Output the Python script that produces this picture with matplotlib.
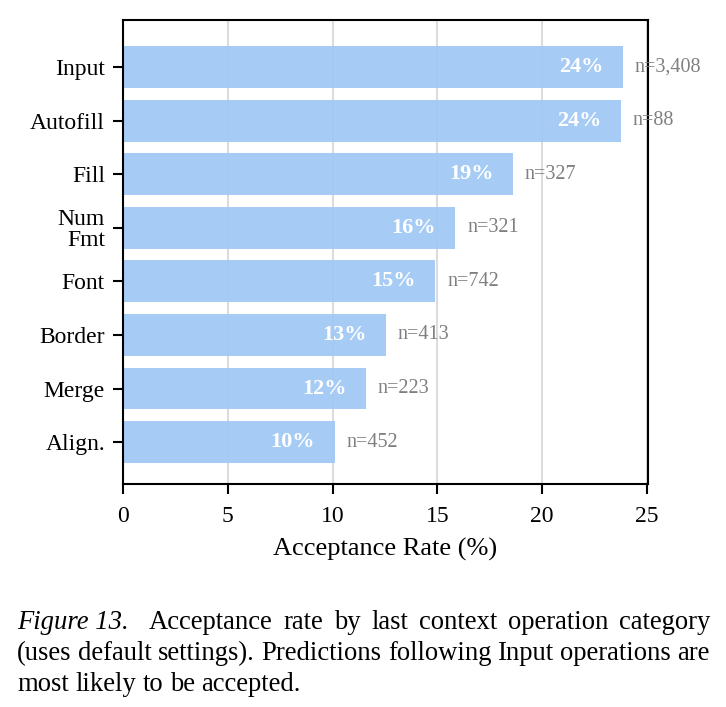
import matplotlib
matplotlib.use("Agg")
import matplotlib.pyplot as plt
import numpy as np

categories = ["Input", "Autofill", "Fill", "Num\nFmt", "Font", "Border", "Merge", "Align."]
rates = [23.85, 23.75, 18.6, 15.85, 14.9, 12.55, 11.6, 10.1]
pct_labels = ["24%", "24%", "19%", "16%", "15%", "13%", "12%", "10%"]
n_labels = ["n=3,408", "n=88", "n=327", "n=321", "n=742", "n=413", "n=223", "n=452"]
xticks = [0, 5, 10, 15, 20, 25]

plt.rcParams['font.family'] = ['Liberation Serif', 'DejaVu Serif']

W, H = 726, 707
fig = plt.figure(figsize=(W / 100, H / 100), dpi=100)
ax = fig.add_axes([123 / W, 1 - 484 / H, (648 - 123) / W, (484 - 20) / H])

y = np.arange(len(categories))
ax.barh(y, rates, height=0.78, color='#a1c9f4', alpha=0.95, zorder=2)
ax.set_xlim(0, 25.05)
ax.set_ylim(7.78, -0.877)
ax.set_yticks(y)
ax.set_yticklabels(categories, fontsize=17, linespacing=0.95)
ax.set_xticks(xticks)
ax.set_xticklabels([str(t) for t in xticks], fontsize=17)
ax.set_xlabel("Acceptance Rate (%)", fontsize=19, labelpad=8)
ax.grid(axis='x', color='#dcdcdc', linewidth=1.5, zorder=0)
ax.set_axisbelow(True)
ax.tick_params(axis='both', direction='out', length=7, width=1.5)
ax.tick_params(axis='x', pad=9)
ax.tick_params(axis='y', pad=6)
for s in ax.spines.values():
    s.set_linewidth(1.5)

for yi, r, pl, nl in zip(y, rates, pct_labels, n_labels):
    ax.annotate(pl, (r, yi), xytext=(-14, 0), textcoords='offset points',
                ha='right', va='center', color='white', fontweight='bold', fontsize=16)
    ax.annotate(nl, (r, yi), xytext=(8.5, 0), textcoords='offset points',
                ha='left', va='center', color='#808080', fontsize=14.5)

# justified caption
caption_lines = [
    [("Figure 13.", 'italic'), ("Acceptance", None), ("rate", None), ("by", None), ("last", None),
     ("context", None), ("operation", None), ("category", None)],
    [(w, None) for w in "(uses default settings). Predictions following Input operations are".split()],
    [(w, None) for w in "most likely to be accepted.".split()],
]
fs = 19.2
x0, x1 = 17, 710
ys = [629, 660, 691]
fig.canvas.draw()
renderer = fig.canvas.get_renderer()
t1 = fig.text(0, 0, "a b", fontsize=fs)
t2 = fig.text(0, 0, "ab", fontsize=fs)
space = t1.get_window_extent(renderer).width - t2.get_window_extent(renderer).width
t1.remove()
t2.remove()
for li, (words, yy) in enumerate(zip(caption_lines, ys)):
    texts = []
    widths = []
    for w, st in words:
        t = fig.text(0, 1 - yy / H, w, fontsize=fs, style=st if st else 'normal',
                     ha='left', va='baseline')
        bb = t.get_window_extent(renderer)
        texts.append(t)
        widths.append(bb.width)
    extra = space * 1.5 if li == 0 else 0
    if li < len(caption_lines) - 1:
        gap = (x1 - x0 - sum(widths) - extra) / (len(words) - 1)
    else:
        gap = space
    xx = x0
    for i, (t, wdt) in enumerate(zip(texts, widths)):
        t.set_x(xx / W)
        xx += wdt + gap
        if li == 0 and i == 0:
            xx += extra

fig.savefig("out.png", dpi=100)
